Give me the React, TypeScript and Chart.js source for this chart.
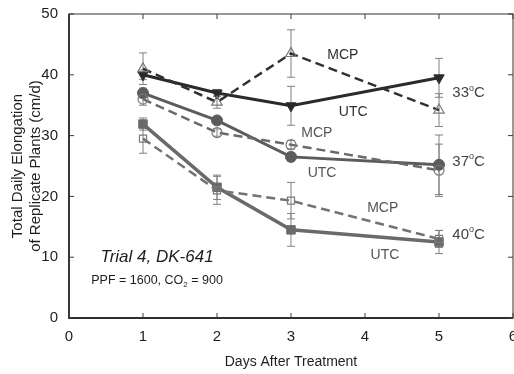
import React, { useEffect, useRef } from "react";
import { Chart, registerables } from "chart.js";

Chart.register(...registerables);

const days = [1, 2, 3, 5];
const xTicks = [0, 1, 2, 3, 4, 5, 6];
const yTicks = [0, 10, 20, 30, 40, 50];

const utc33 = [40.0, 37.0, 34.9, 39.5];
const mcp33 = [41.0, 35.5, 43.5, 34.2];
const utc37 = [37.0, 32.5, 26.5, 25.2];
const mcp37 = [36.0, 30.5, 28.5, 24.3];
const utc40 = [31.9, 21.5, 14.5, 12.5];
const mcp40 = [29.5, 21.0, 19.3, 13.0];

const errUtc33 = [0.8, 0.6, 3.2, 3.2];
const errMcp33 = [2.6, 1.0, 3.9, 2.7];
const errUtc37 = [0.8, 0.5, 0.7, 4.9];
const errMcp37 = [1.0, 0.6, 0.7, 4.3];
const errUtc40 = [1.0, 2.0, 2.7, 1.9];
const errMcp40 = [2.4, 2.3, 3.0, 1.4];

const xTitle = "Days After Treatment";
const yTitle = ["Total Daily Elongation", "of Replicate Plants (cm/d)"];
const trialText = "Trial 4, DK-641";

// series labels placed in data coordinates
const seriesLabels = [
  { text: "MCP", x: 3.7, y: 43.3, color: "#2e2e2e" },
  { text: "UTC", x: 3.84, y: 33.9, color: "#2e2e2e" },
  { text: "MCP", x: 3.35, y: 30.4, color: "#555555" },
  { text: "UTC", x: 3.42, y: 23.8, color: "#555555" },
  { text: "MCP", x: 4.24, y: 18.1, color: "#555555" },
  { text: "UTC", x: 4.27, y: 10.4, color: "#555555" },
];
const tempLabels = [
  { num: "33", x: 5.18, y: 37.0 },
  { num: "37", x: 5.18, y: 25.7 },
  { num: "40", x: 5.18, y: 13.7 },
];

const FONT = "'Liberation Sans', Arial, Helvetica, sans-serif";
const DARK = "#2a2a2a";
const GREY_OPEN = "#7a7a7a";

const toPts = (vals: number[]) => vals.map((v, i) => ({ x: days[i], y: v }));

const errorBarPlugin = {
  id: "errorBars",
  beforeDatasetsDraw(chart: any) {
    const { ctx, scales } = chart;
    const xs = scales.x, ys = scales.y;
    ctx.save();
    ctx.strokeStyle = "#808080";
    ctx.lineWidth = 1;
    chart.data.datasets.forEach((ds: any) => {
      const errs: number[] = ds.errors;
      if (!errs) return;
      ds.data.forEach((p: any, i: number) => {
        const px = xs.getPixelForValue(p.x);
        const top = ys.getPixelForValue(p.y + errs[i]);
        const bot = ys.getPixelForValue(p.y - errs[i]);
        ctx.beginPath();
        ctx.moveTo(px, top);
        ctx.lineTo(px, bot);
        ctx.moveTo(px - 4, top);
        ctx.lineTo(px + 4, top);
        ctx.moveTo(px - 4, bot);
        ctx.lineTo(px + 4, bot);
        ctx.stroke();
      });
    });
    ctx.restore();
  },
};

const framePlugin = {
  id: "frame",
  afterDraw(chart: any) {
    const { ctx, chartArea: a, scales } = chart;
    const xs = scales.x, ys = scales.y;
    ctx.save();
    ctx.strokeStyle = "#555555";
    ctx.lineWidth = 1.2;
    ctx.strokeRect(a.left, a.top, a.right - a.left, a.bottom - a.top);
    ctx.strokeStyle = "#2e2e2e";
    ctx.lineWidth = 1.8;
    ctx.beginPath();
    ctx.moveTo(a.left, a.top);
    ctx.lineTo(a.left, a.bottom);
    ctx.lineTo(a.right, a.bottom);
    ctx.stroke();
    ctx.strokeStyle = "#3a3a3a";
    ctx.lineWidth = 1;
    ctx.beginPath();
    xTicks.forEach((t) => {
      const px = xs.getPixelForValue(t);
      ctx.moveTo(px, a.bottom);
      ctx.lineTo(px, a.bottom - 5);
      ctx.moveTo(px, a.top);
      ctx.lineTo(px, a.top + 5);
    });
    yTicks.forEach((t) => {
      const py = ys.getPixelForValue(t);
      ctx.moveTo(a.left, py);
      ctx.lineTo(a.left + 5, py);
      ctx.moveTo(a.right, py);
      ctx.lineTo(a.right - 5, py);
    });
    ctx.stroke();

    // series labels
    ctx.textBaseline = "middle";
    ctx.textAlign = "center";
    ctx.font = `14px ${FONT}`;
    seriesLabels.forEach((l) => {
      ctx.fillStyle = l.color;
      ctx.fillText(l.text, xs.getPixelForValue(l.x), ys.getPixelForValue(l.y));
    });

    // temperature labels with superscript degree
    ctx.textAlign = "left";
    tempLabels.forEach((l) => {
      let px = xs.getPixelForValue(l.x);
      const py = ys.getPixelForValue(l.y);
      ctx.fillStyle = "#444444";
      ctx.font = `15px ${FONT}`;
      ctx.fillText(l.num, px, py);
      px += ctx.measureText(l.num).width;
      ctx.font = `9px ${FONT}`;
      ctx.fillText("o", px, py - 5);
      px += ctx.measureText("o").width;
      ctx.font = `15px ${FONT}`;
      ctx.fillText("C", px, py);
    });

    // trial text
    ctx.fillStyle = "#1e1e1e";
    ctx.textAlign = "center";
    ctx.font = `italic 17px ${FONT}`;
    ctx.fillText(trialText, xs.getPixelForValue(1.19), ys.getPixelForValue(10.0));

    // PPF line with subscript
    const cx = xs.getPixelForValue(1.19);
    const cy = ys.getPixelForValue(6.1);
    const partA = "PPF = 1600, CO";
    const partSub = "2";
    const partB = " = 900";
    ctx.font = `12.5px ${FONT}`;
    const wA = ctx.measureText(partA).width;
    const wB = ctx.measureText(partB).width;
    ctx.font = `8px ${FONT}`;
    const wS = ctx.measureText(partSub).width;
    let sx = cx - (wA + wS + wB) / 2;
    ctx.textAlign = "left";
    ctx.font = `12.5px ${FONT}`;
    ctx.fillText(partA, sx, cy);
    sx += wA;
    ctx.font = `8px ${FONT}`;
    ctx.fillText(partSub, sx, cy + 4);
    sx += wS;
    ctx.font = `12.5px ${FONT}`;
    ctx.fillText(partB, sx, cy);
    ctx.restore();
  },
};

export default function App() {
  const ref = useRef<HTMLCanvasElement>(null);

  useEffect(() => {
    if (!ref.current) return;
    const mk = (
      label: string,
      vals: number[],
      errs: number[],
      color: string,
      dashed: boolean,
      style: string,
      filled: boolean,
      rotation: number,
      width: number,
      radius: number
    ) => ({
      label,
      data: toPts(vals),
      errors: errs,
      borderColor: color,
      borderWidth: width,
      borderDash: dashed ? [9, 5] : [],
      pointStyle: style,
      pointRotation: rotation,
      pointRadius: radius,
      pointBorderWidth: filled ? 1 : 1.2,
      pointBorderColor: filled ? color : GREY_OPEN,
      pointBackgroundColor: filled ? color : "rgba(255,255,255,0)",
      fill: false,
      tension: 0,
    });

    const chart = new Chart(ref.current, {
      type: "line",
      data: {
        datasets: [
          mk("40 MCP", mcp40, errMcp40, "#737373", true, "rect", false, 0, 2.5, 5),
          mk("40 UTC", utc40, errUtc40, "#6a6a6a", false, "rect", true, 0, 3.5, 6),
          mk("37 MCP", mcp37, errMcp37, "#6a6a6a", true, "circle", false, 0, 2.5, 5),
          mk("37 UTC", utc37, errUtc37, "#5c5c5c", false, "circle", true, 0, 3, 5.5),
          mk("33 MCP", mcp33, errMcp33, "#303030", true, "triangle", false, 0, 2.5, 6),
          mk("33 UTC", utc33, errUtc33, DARK, false, "triangle", true, 180, 3, 6),
        ] as any,
      },
      options: {
        animation: false,
        responsive: false,
        maintainAspectRatio: false,
        layout: { autoPadding: false, padding: { top: 14, right: 1, left: 0, bottom: 0 } },
        plugins: { legend: { display: false }, tooltip: { enabled: false } },
        scales: {
          x: {
            type: "linear",
            min: 0,
            max: 6,
            grid: { display: false },
            border: { display: false },
            ticks: {
              stepSize: 1,
              color: "#1e1e1e",
              font: { family: FONT, size: 15 },
              padding: 2,
              maxRotation: 0,
            },
            title: {
              display: true,
              text: xTitle,
              color: "#1e1e1e",
              font: { family: FONT, size: 14 },
              padding: { top: 0, bottom: 3 },
            },
            afterFit: (s: any) => {
              s.height = 56;
              s.paddingRight = 0;
              s.paddingLeft = 0;
            },
          },
          y: {
            type: "linear",
            min: 0,
            max: 50,
            grid: { display: false },
            border: { display: false },
            ticks: {
              stepSize: 10,
              color: "#1e1e1e",
              font: { family: FONT, size: 15 },
              padding: 3,
            },
            title: {
              display: true,
              text: yTitle,
              color: "#1e1e1e",
              font: { family: FONT, size: 15, lineHeight: 1.2 },
              padding: { top: 9, bottom: 0 },
            },
            afterFit: (s: any) => {
              s.width = 69;
              s.paddingTop = 0;
              s.paddingBottom = 0;
            },
          },
        },
      } as any,
      plugins: [errorBarPlugin, framePlugin],
    });
    return () => chart.destroy();
  }, []);

  return (
    <div style={{ position: "absolute", left: 0, top: 0, width: 514, height: 374, background: "#fff" }}>
      <canvas ref={ref} width={514} height={374} style={{ width: 514, height: 374 }} />
    </div>
  );
}
